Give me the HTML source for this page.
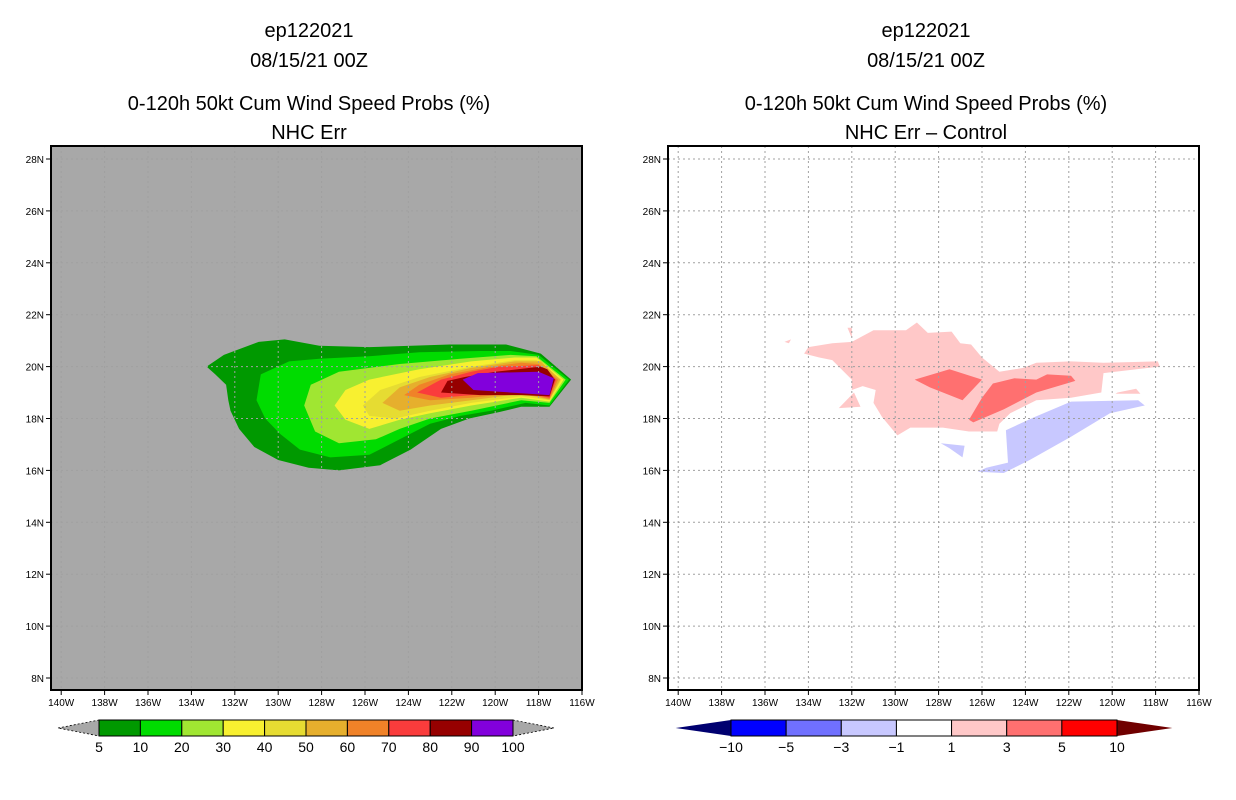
<!DOCTYPE html>
<html><head><meta charset="utf-8"><style>
body{margin:0;background:#fff;}
svg{display:block;font-family:"Liberation Sans",sans-serif;}
</style></head><body>
<svg id="s" width="1236" height="800" viewBox="0 0 1236 800">
<g font-size="20" text-anchor="middle" fill="#000">
<text x="309" y="37">ep122021</text>
<text x="309" y="67">08/15/21 00Z</text>
<text x="309" y="110">0-120h 50kt Cum Wind Speed Probs (%)</text>
<text x="309" y="139">NHC Err</text>
</g>
<g font-size="20" text-anchor="middle" fill="#000">
<text x="926" y="37">ep122021</text>
<text x="926" y="67">08/15/21 00Z</text>
<text x="926" y="110">0-120h 50kt Cum Wind Speed Probs (%)</text>
<text x="926" y="139">NHC Err – Control</text>
</g>
</svg>
<script>
// ---- data ----
const lonTicks=[140,138,136,134,132,130,128,126,124,122,120,118,116];
const latTicks=[28,26,24,22,20,18,16,14,12,10,8];
const probLevels=["5","10","20","30","40","50","60","70","80","90","100"];
const probColors=["#009900","#00dc00","#a0e632","#f8f030","#e6dc32","#e6af2d","#f08228","#fa3c3c","#960000","#8200dc"];
const diffLevels=["-10","-5","-3","-1","1","3","5","10"];
const diffColors=["#000070","#0000ff","#7070ff","#c8c8ff","#ffffff","#ffc8c8","#ff7070","#ff0000","#700000"];
// probability contours [lonW, lat], fill level index
const prob5=[[133.3,20.0],[132.5,20.45],[130.9,20.95],[129.7,21.05],[128.1,20.8],[125.8,20.75],[122.1,20.85],[119.5,20.85],[117.9,20.5],[116.5,19.5],[117.5,18.45],[118.8,18.45],[119.8,18.25],[121.2,18.0],[122.5,17.6],[123.9,16.8],[125.3,16.2],[127.2,16.0],[128.6,16.1],[130.0,16.4],[131.1,16.9],[131.8,17.6],[132.2,18.3],[132.3,18.7],[132.4,19.3],[132.9,19.7]];
const prob10=[[131.0,18.7],[130.8,19.7],[129.5,20.2],[128.1,20.3],[125.8,20.4],[123.5,20.55],[120.7,20.6],[119.3,20.6],[118.0,20.45],[116.6,19.5],[117.5,18.5],[118.6,18.6],[120.2,18.3],[121.6,18.1],[123.0,17.8],[124.4,17.2],[125.8,16.6],[127.6,16.5],[129.0,16.8],[129.9,17.4],[130.6,18.0]];
const prob20=[[128.8,18.5],[128.5,19.3],[127.2,19.8],[124.4,20.1],[121.6,20.3],[119.3,20.45],[118.1,20.4],[116.75,19.5],[117.5,18.6],[118.8,18.7],[121.1,18.3],[123.0,18.0],[124.4,17.6],[125.5,17.2],[127.2,17.05],[128.3,17.5]];
const prob30=[[127.4,18.5],[126.9,19.1],[125.8,19.5],[123.5,19.9],[121.1,20.2],[119.1,20.35],[118.1,20.35],[116.85,19.5],[117.5,18.65],[118.8,18.8],[121.1,18.5],[123.0,18.2],[124.4,17.95],[125.8,17.6],[126.9,17.95]];
const prob40=[[126.1,18.5],[125.3,19.1],[123.5,19.6],[121.1,20.0],[119.1,20.25],[118.1,20.25],[116.95,19.5],[117.5,18.7],[118.8,18.85],[121.1,18.6],[123.0,18.3],[124.6,18.0],[125.8,18.1]];
const prob50=[[125.2,18.6],[124.4,19.2],[123.0,19.6],[121.1,19.95],[119.1,20.2],[117.9,20.2],[117.0,19.5],[117.5,18.72],[118.8,18.95],[121.1,18.7],[123.0,18.5],[124.4,18.3]];
const prob60=[[124.2,18.9],[123.5,19.3],[122.1,19.7],[120.2,20.0],[118.8,20.15],[118.0,20.1],[117.1,19.5],[117.5,18.75],[118.8,19.0],[121.1,18.8],[123.0,18.7]];
const prob70=[[123.6,19.0],[122.5,19.5],[121.1,19.8],[119.8,20.0],[118.0,20.05],[117.2,19.5],[117.5,18.8],[118.8,19.05],[121.1,18.9],[122.5,18.8]];
const prob80=[[122.5,19.0],[122.2,19.45],[121.4,19.6],[120.0,19.8],[117.9,20.0],[117.6,19.9],[117.25,19.5],[117.5,18.85],[118.8,18.9],[120.7,18.9]];
const prob90=[[121.5,19.5],[120.8,19.75],[118.0,19.8],[117.3,19.55],[117.5,18.9],[121.0,19.1]];
// difference contours
const diffPinkMain=[[134.2,20.5],[134.0,20.75],[132.9,20.9],[132.0,20.95],[131.0,21.4],[129.5,21.4],[129.0,21.7],[128.5,21.3],[127.4,21.35],[127.0,20.9],[126.5,20.85],[126.0,20.35],[125.2,19.8],[124.1,19.95],[123.5,20.15],[121.9,20.2],[120.4,20.15],[117.9,20.2],[117.8,20.0],[120.4,19.75],[120.5,19.0],[121.9,18.8],[123.5,18.7],[124.7,18.2],[125.2,17.8],[125.3,17.5],[126.6,17.5],[127.8,17.65],[129.3,17.65],[129.9,17.35],[130.6,18.05],[131.0,18.6],[130.9,19.1],[131.5,19.25],[132.0,19.1],[132.0,19.5],[132.9,20.25],[133.5,20.35]];
const diffPinkTri=[[132.6,18.4],[131.9,19.0],[131.6,18.45]];
const diffPinkSpike=[[132.2,21.5],[132.0,21.5],[132.0,21.1]];
const diffPinkDot=[[135.1,20.95],[134.8,21.05],[134.9,20.9]];
const diffPinkEast=[[119.75,19.0],[118.9,19.15],[118.7,18.95],[119.85,18.95]];
const diffRed1=[[129.1,19.5],[127.5,19.9],[126.0,19.5],[126.9,18.7],[127.8,19.0],[128.4,19.2]];
const diffRed2=[[126.6,17.95],[126.0,18.8],[125.5,19.35],[124.5,19.55],[123.5,19.5],[123.0,19.7],[121.9,19.65],[121.7,19.45],[123.5,19.0],[125.0,18.35],[126.4,17.85]];
const diffBlue1=[[124.9,17.55],[123.6,18.05],[121.9,18.65],[118.8,18.7],[118.5,18.5],[120.1,18.2],[121.9,17.3],[123.8,16.4],[125.0,15.9],[126.2,15.95],[125.8,16.1],[124.8,16.3]];
const diffBlue2=[[127.9,17.05],[126.8,16.95],[126.9,16.5],[127.5,16.85]];

const NS='http://www.w3.org/2000/svg';
const svg=document.getElementById('s');
function mk(tag,attrs,parent){const e=document.createElementNS(NS,tag);for(const k in attrs)e.setAttribute(k,attrs[k]);(parent||svg).appendChild(e);return e;}

function makePanel(x0,name){
  const P={x0:x0,x1:x0+531,y0:146,y1:690};
  P.lonX=l=>P.x1-(l-116)*21.7;          // lon (deg W) -> x
  P.latY=l=>159+(28-l)*25.95;            // lat -> y
  const g=mk('g',{});
  
  
  P.g=g;return P;
}
function poly(P,pts,fill,name){
  const d=pts.map(p=>P.lonX(p[0]).toFixed(1)+','+P.latY(p[1]).toFixed(1)).join(' ');
  const e=mk('polygon',{points:d,fill:fill},P.g);
  
  
}
function axes(P,prefix){
  const gg=mk('g',{stroke:'#a0a0a0','stroke-width':1,'stroke-dasharray':'2,3'},P.g);
  
  
  lonTicks.forEach(l=>{const x=P.lonX(l);if(x>P.x0+2&&x<P.x1-2)mk('line',{x1:x,x2:x,y1:P.y0,y2:P.y1},gg);});
  latTicks.forEach(l=>{const y=P.latY(l);mk('line',{x1:P.x0,x2:P.x1,y1:y,y2:y},gg);});
  const fr=mk('rect',{x:P.x0,y:P.y0,width:P.x1-P.x0,height:P.y1-P.y0,fill:'none',stroke:'#000','stroke-width':2},P.g);
  
  
  const xa=mk('g',{'font-size':10,'text-anchor':'middle'},P.g);
  
  
  lonTicks.forEach(l=>{const x=P.lonX(l);mk('line',{x1:x,x2:x,y1:P.y1,y2:P.y1+5,stroke:'#000'},xa);
    const t=mk('text',{x:x,y:P.y1+16},xa);t.textContent=l+'W';
    
    });
  const ya=mk('g',{'font-size':10,'text-anchor':'end'},P.g);
  
  
  latTicks.forEach(l=>{const y=P.latY(l);mk('line',{x1:P.x0-5,x2:P.x0,y1:y,y2:y,stroke:'#000'},ya);
    const t=mk('text',{x:P.x0-7,y:y+4},ya);t.textContent=l+'N';
    
    });
}
function colorbar(name,x0,x1,colors,labels,edge){
  const g=mk('g',{});
  
  
  const n=colors.length-2,tw=41*(x1-x0)/ (x1-x0)*((x1-x0)/n>50?1.35:1),y0=720,y1=736,ym=728;
  const w=(x1-x0)/n;
  const tl=mk('polygon',{points:`${x0-tw},${ym} ${x0},${y0} ${x0},${y1}`,fill:colors[0],stroke:edge,'stroke-dasharray':edge?'2,2':'' ,'stroke-width':0.8},g);
  
  
  const tr=mk('polygon',{points:`${x1+tw},${ym} ${x1},${y0} ${x1},${y1}`,fill:colors[colors.length-1],stroke:edge,'stroke-dasharray':edge?'2,2':'','stroke-width':0.8},g);
  
  
  for(let i=0;i<n;i++){const r=mk('rect',{x:x0+i*w,y:y0,width:w,height:y1-y0,fill:colors[i+1],stroke:'#000','stroke-width':1},g);
    
    }
  labels.forEach((s,i)=>{const t=mk('text',{x:x0+i*w,y:752,'font-size':14,'text-anchor':'middle'},g);t.textContent=s.replace('-','\u2212');
    
    });
}

// left panel
const L=makePanel(51,'left-probability-map');
const bg=mk('rect',{x:L.x0,y:L.y0,width:531,height:544,fill:'#a8a8a8'},L.g);


[prob5,prob10,prob20,prob30,prob40,prob50,prob60,prob70,prob80,prob90].forEach((p,i)=>poly(L,p,probColors[i],'prob-contour-'+probLevels[i]));
axes(L,'left');
// right panel
const R=makePanel(668,'right-difference-map');
const bg2=mk('rect',{x:R.x0,y:R.y0,width:531,height:544,fill:'#ffffff'},R.g);


[diffPinkMain,diffPinkTri,diffPinkSpike,diffPinkDot,diffPinkEast].forEach(p=>poly(R,p,diffColors[5],'diff-contour-1-3'));
[diffRed1,diffRed2].forEach(p=>poly(R,p,diffColors[6],'diff-contour-3-5'));
[diffBlue1,diffBlue2].forEach(p=>poly(R,p,diffColors[3],'diff-contour-neg3-neg1'));
axes(R,'right');
// colorbars
colorbar('left-colorbar',99,513,['#a8a8a8'].concat(probColors,['#a8a8a8']),probLevels,'#000');
colorbar('right-colorbar',731,1117,diffColors,diffLevels,'none');
</script>
</body></html>
